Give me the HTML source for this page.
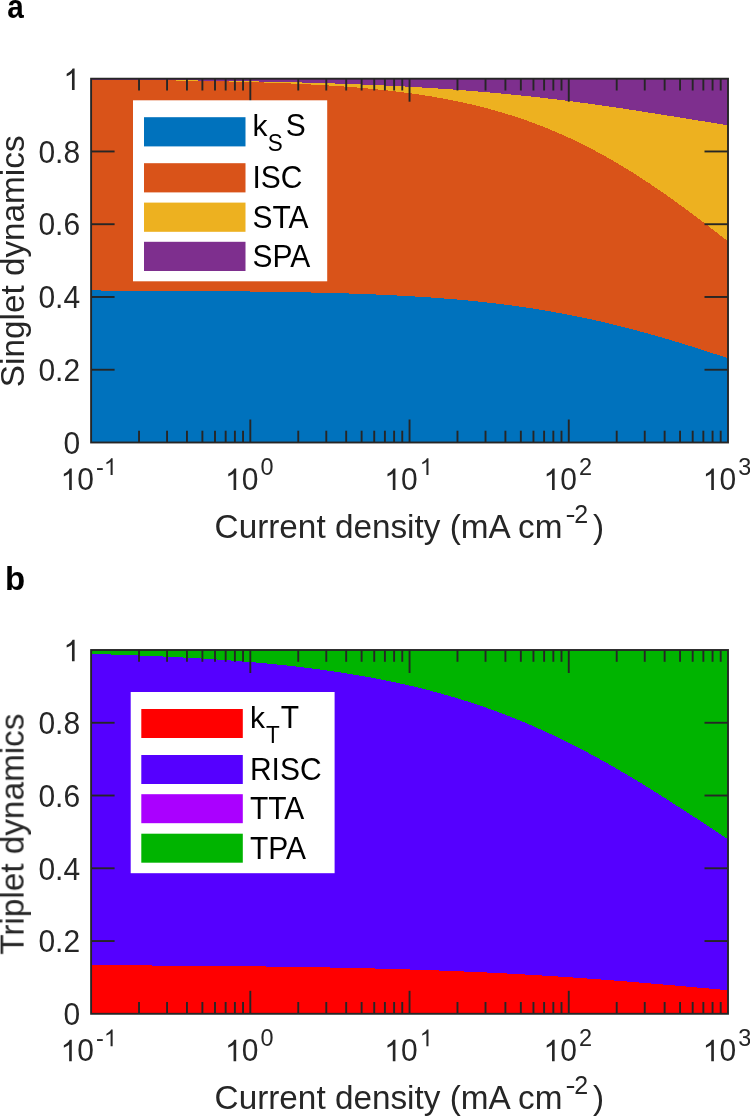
<!DOCTYPE html>
<html><head><meta charset="utf-8"><style>
html,body{margin:0;padding:0;background:#fff;}
body{width:750px;height:1116px;overflow:hidden;font-family:"Liberation Sans", sans-serif;}
svg{display:block;}
svg text{font-family:"Liberation Sans", sans-serif;}
</style></head><body>
<svg width="750" height="1116" viewBox="0 0 750 1116">
<defs><path id="one" d="M763 0L583 0L583 1147C540 1106 483 1064 412 1023C341 982 277 951 221 929L221 1103C318 1148 402 1203 474 1268C546 1333 597 1399 627 1466L763 1466Z"/></defs>
<rect width="750" height="1116" fill="#fff"/>
<path d="M91.10,78.70 L94.28,78.70 L97.47,78.70 L100.65,78.70 L103.84,78.70 L107.02,78.70 L110.21,78.70 L113.39,78.70 L116.58,78.70 L119.76,78.70 L122.94,78.70 L126.13,78.70 L129.31,78.70 L132.50,78.70 L135.68,78.70 L138.87,78.70 L142.05,78.70 L145.24,78.70 L148.42,78.70 L151.61,78.70 L154.79,78.70 L157.97,78.70 L161.16,78.70 L164.34,78.70 L167.53,78.70 L170.71,78.70 L173.90,78.70 L177.08,78.70 L180.27,78.70 L183.45,78.70 L186.63,78.70 L189.82,78.70 L193.00,78.70 L196.19,78.70 L199.37,78.70 L202.56,78.70 L205.74,78.70 L208.93,78.70 L212.11,78.70 L215.30,78.70 L218.48,78.70 L221.66,78.70 L224.85,78.70 L228.03,78.70 L231.22,78.70 L234.40,78.70 L237.59,78.70 L240.77,78.70 L243.96,78.70 L247.14,78.70 L250.32,78.70 L253.51,78.70 L256.69,78.70 L259.88,78.70 L263.06,78.70 L266.25,78.70 L269.43,78.70 L272.62,78.70 L275.80,78.70 L278.99,78.70 L282.17,78.70 L285.35,78.70 L288.54,78.70 L291.72,78.70 L294.91,78.70 L298.09,78.70 L301.28,78.70 L304.46,78.70 L307.65,78.70 L310.83,78.70 L314.01,78.70 L317.20,78.70 L320.38,78.70 L323.57,78.70 L326.75,78.70 L329.94,78.70 L333.12,78.70 L336.31,78.70 L339.49,78.70 L342.68,78.70 L345.86,78.70 L349.04,78.70 L352.23,78.70 L355.41,78.70 L358.60,78.70 L361.78,78.70 L364.97,78.70 L368.15,78.70 L371.34,78.70 L374.52,78.70 L377.71,78.70 L380.89,78.70 L384.07,78.70 L387.26,78.70 L390.44,78.70 L393.63,78.70 L396.81,78.70 L400.00,78.70 L403.18,78.70 L406.37,78.70 L409.55,78.70 L412.73,78.70 L415.92,78.70 L419.10,78.70 L422.29,78.70 L425.47,78.70 L428.66,78.70 L431.84,78.70 L435.03,78.70 L438.21,78.70 L441.39,78.70 L444.58,78.70 L447.76,78.70 L450.95,78.70 L454.13,78.70 L457.32,78.70 L460.50,78.70 L463.69,78.70 L466.87,78.70 L470.06,78.70 L473.24,78.70 L476.42,78.70 L479.61,78.70 L482.79,78.70 L485.98,78.70 L489.16,78.70 L492.35,78.70 L495.53,78.70 L498.72,78.70 L501.90,78.70 L505.09,78.70 L508.27,78.70 L511.45,78.70 L514.64,78.70 L517.82,78.70 L521.01,78.70 L524.19,78.70 L527.38,78.70 L530.56,78.70 L533.75,78.70 L536.93,78.70 L540.11,78.70 L543.30,78.70 L546.48,78.70 L549.67,78.70 L552.85,78.70 L556.04,78.70 L559.22,78.70 L562.41,78.70 L565.59,78.70 L568.77,78.70 L571.96,78.70 L575.14,78.70 L578.33,78.70 L581.51,78.70 L584.70,78.70 L587.88,78.70 L591.07,78.70 L594.25,78.70 L597.44,78.70 L600.62,78.70 L603.80,78.70 L606.99,78.70 L610.17,78.70 L613.36,78.70 L616.54,78.70 L619.73,78.70 L622.91,78.70 L626.10,78.70 L629.28,78.70 L632.47,78.70 L635.65,78.70 L638.83,78.70 L642.02,78.70 L645.20,78.70 L648.39,78.70 L651.57,78.70 L654.76,78.70 L657.94,78.70 L661.13,78.70 L664.31,78.70 L667.49,78.70 L670.68,78.70 L673.86,78.70 L677.05,78.70 L680.23,78.70 L683.42,78.70 L686.60,78.70 L689.79,78.70 L692.97,78.70 L696.15,78.70 L699.34,78.70 L702.52,78.70 L705.71,78.70 L708.89,78.70 L712.08,78.70 L715.26,78.70 L718.45,78.70 L721.63,78.70 L724.82,78.70 L728.00,78.70 L728.00,442.50 L724.82,442.50 L721.63,442.50 L718.45,442.50 L715.26,442.50 L712.08,442.50 L708.89,442.50 L705.71,442.50 L702.52,442.50 L699.34,442.50 L696.15,442.50 L692.97,442.50 L689.79,442.50 L686.60,442.50 L683.42,442.50 L680.23,442.50 L677.05,442.50 L673.86,442.50 L670.68,442.50 L667.49,442.50 L664.31,442.50 L661.13,442.50 L657.94,442.50 L654.76,442.50 L651.57,442.50 L648.39,442.50 L645.20,442.50 L642.02,442.50 L638.83,442.50 L635.65,442.50 L632.47,442.50 L629.28,442.50 L626.10,442.50 L622.91,442.50 L619.73,442.50 L616.54,442.50 L613.36,442.50 L610.17,442.50 L606.99,442.50 L603.80,442.50 L600.62,442.50 L597.44,442.50 L594.25,442.50 L591.07,442.50 L587.88,442.50 L584.70,442.50 L581.51,442.50 L578.33,442.50 L575.14,442.50 L571.96,442.50 L568.77,442.50 L565.59,442.50 L562.41,442.50 L559.22,442.50 L556.04,442.50 L552.85,442.50 L549.67,442.50 L546.48,442.50 L543.30,442.50 L540.11,442.50 L536.93,442.50 L533.75,442.50 L530.56,442.50 L527.38,442.50 L524.19,442.50 L521.01,442.50 L517.82,442.50 L514.64,442.50 L511.45,442.50 L508.27,442.50 L505.09,442.50 L501.90,442.50 L498.72,442.50 L495.53,442.50 L492.35,442.50 L489.16,442.50 L485.98,442.50 L482.79,442.50 L479.61,442.50 L476.42,442.50 L473.24,442.50 L470.06,442.50 L466.87,442.50 L463.69,442.50 L460.50,442.50 L457.32,442.50 L454.13,442.50 L450.95,442.50 L447.76,442.50 L444.58,442.50 L441.39,442.50 L438.21,442.50 L435.03,442.50 L431.84,442.50 L428.66,442.50 L425.47,442.50 L422.29,442.50 L419.10,442.50 L415.92,442.50 L412.73,442.50 L409.55,442.50 L406.37,442.50 L403.18,442.50 L400.00,442.50 L396.81,442.50 L393.63,442.50 L390.44,442.50 L387.26,442.50 L384.07,442.50 L380.89,442.50 L377.71,442.50 L374.52,442.50 L371.34,442.50 L368.15,442.50 L364.97,442.50 L361.78,442.50 L358.60,442.50 L355.41,442.50 L352.23,442.50 L349.04,442.50 L345.86,442.50 L342.68,442.50 L339.49,442.50 L336.31,442.50 L333.12,442.50 L329.94,442.50 L326.75,442.50 L323.57,442.50 L320.38,442.50 L317.20,442.50 L314.01,442.50 L310.83,442.50 L307.65,442.50 L304.46,442.50 L301.28,442.50 L298.09,442.50 L294.91,442.50 L291.72,442.50 L288.54,442.50 L285.35,442.50 L282.17,442.50 L278.99,442.50 L275.80,442.50 L272.62,442.50 L269.43,442.50 L266.25,442.50 L263.06,442.50 L259.88,442.50 L256.69,442.50 L253.51,442.50 L250.32,442.50 L247.14,442.50 L243.96,442.50 L240.77,442.50 L237.59,442.50 L234.40,442.50 L231.22,442.50 L228.03,442.50 L224.85,442.50 L221.66,442.50 L218.48,442.50 L215.30,442.50 L212.11,442.50 L208.93,442.50 L205.74,442.50 L202.56,442.50 L199.37,442.50 L196.19,442.50 L193.00,442.50 L189.82,442.50 L186.63,442.50 L183.45,442.50 L180.27,442.50 L177.08,442.50 L173.90,442.50 L170.71,442.50 L167.53,442.50 L164.34,442.50 L161.16,442.50 L157.97,442.50 L154.79,442.50 L151.61,442.50 L148.42,442.50 L145.24,442.50 L142.05,442.50 L138.87,442.50 L135.68,442.50 L132.50,442.50 L129.31,442.50 L126.13,442.50 L122.94,442.50 L119.76,442.50 L116.58,442.50 L113.39,442.50 L110.21,442.50 L107.02,442.50 L103.84,442.50 L100.65,442.50 L97.47,442.50 L94.28,442.50 L91.10,442.50 Z" fill="#7E2F8E" shape-rendering="crispEdges"/>
<path d="M91.10,79.54 L94.28,79.56 L97.47,79.58 L100.65,79.60 L103.84,79.62 L107.02,79.64 L110.21,79.66 L113.39,79.69 L116.58,79.71 L119.76,79.73 L122.94,79.76 L126.13,79.78 L129.31,79.81 L132.50,79.83 L135.68,79.86 L138.87,79.88 L142.05,79.91 L145.24,79.94 L148.42,79.97 L151.61,80.00 L154.79,80.03 L157.97,80.06 L161.16,80.09 L164.34,80.12 L167.53,80.16 L170.71,80.19 L173.90,80.22 L177.08,80.26 L180.27,80.30 L183.45,80.33 L186.63,80.37 L189.82,80.41 L193.00,80.45 L196.19,80.49 L199.37,80.53 L202.56,80.57 L205.74,80.62 L208.93,80.66 L212.11,80.71 L215.30,80.75 L218.48,80.80 L221.66,80.85 L224.85,80.90 L228.03,80.95 L231.22,81.00 L234.40,81.05 L237.59,81.11 L240.77,81.16 L243.96,81.22 L247.14,81.28 L250.32,81.34 L253.51,81.40 L256.69,81.46 L259.88,81.52 L263.06,81.59 L266.25,81.65 L269.43,81.72 L272.62,81.79 L275.80,81.86 L278.99,81.93 L282.17,82.01 L285.35,82.08 L288.54,82.16 L291.72,82.24 L294.91,82.32 L298.09,82.41 L301.28,82.49 L304.46,82.58 L307.65,82.67 L310.83,82.76 L314.01,82.85 L317.20,82.94 L320.38,83.04 L323.57,83.14 L326.75,83.24 L329.94,83.34 L333.12,83.45 L336.31,83.56 L339.49,83.67 L342.68,83.78 L345.86,83.89 L349.04,84.01 L352.23,84.13 L355.41,84.25 L358.60,84.38 L361.78,84.51 L364.97,84.64 L368.15,84.77 L371.34,84.91 L374.52,85.04 L377.71,85.19 L380.89,85.33 L384.07,85.48 L387.26,85.63 L390.44,85.79 L393.63,85.94 L396.81,86.10 L400.00,86.27 L403.18,86.43 L406.37,86.61 L409.55,86.78 L412.73,86.96 L415.92,87.14 L419.10,87.32 L422.29,87.51 L425.47,87.70 L428.66,87.90 L431.84,88.10 L435.03,88.31 L438.21,88.51 L441.39,88.73 L444.58,88.94 L447.76,89.16 L450.95,89.39 L454.13,89.61 L457.32,89.85 L460.50,90.08 L463.69,90.33 L466.87,90.57 L470.06,90.82 L473.24,91.08 L476.42,91.34 L479.61,91.60 L482.79,91.87 L485.98,92.14 L489.16,92.42 L492.35,92.70 L495.53,92.99 L498.72,93.29 L501.90,93.58 L505.09,93.89 L508.27,94.19 L511.45,94.51 L514.64,94.82 L517.82,95.15 L521.01,95.47 L524.19,95.81 L527.38,96.14 L530.56,96.49 L533.75,96.83 L536.93,97.19 L540.11,97.55 L543.30,97.91 L546.48,98.28 L549.67,98.65 L552.85,99.03 L556.04,99.41 L559.22,99.80 L562.41,100.19 L565.59,100.59 L568.77,101.00 L571.96,101.40 L575.14,101.82 L578.33,102.24 L581.51,102.66 L584.70,103.09 L587.88,103.52 L591.07,103.95 L594.25,104.40 L597.44,104.84 L600.62,105.29 L603.80,105.75 L606.99,106.20 L610.17,106.67 L613.36,107.13 L616.54,107.60 L619.73,108.08 L622.91,108.55 L626.10,109.03 L629.28,109.52 L632.47,110.01 L635.65,110.50 L638.83,110.99 L642.02,111.49 L645.20,111.98 L648.39,112.49 L651.57,112.99 L654.76,113.49 L657.94,114.00 L661.13,114.51 L664.31,115.02 L667.49,115.53 L670.68,116.04 L673.86,116.56 L677.05,117.07 L680.23,117.59 L683.42,118.10 L686.60,118.62 L689.79,119.13 L692.97,119.65 L696.15,120.16 L699.34,120.67 L702.52,121.19 L705.71,121.70 L708.89,122.20 L712.08,122.71 L715.26,123.22 L718.45,123.72 L721.63,124.22 L724.82,124.72 L728.00,125.21 L728.00,442.50 L724.82,442.50 L721.63,442.50 L718.45,442.50 L715.26,442.50 L712.08,442.50 L708.89,442.50 L705.71,442.50 L702.52,442.50 L699.34,442.50 L696.15,442.50 L692.97,442.50 L689.79,442.50 L686.60,442.50 L683.42,442.50 L680.23,442.50 L677.05,442.50 L673.86,442.50 L670.68,442.50 L667.49,442.50 L664.31,442.50 L661.13,442.50 L657.94,442.50 L654.76,442.50 L651.57,442.50 L648.39,442.50 L645.20,442.50 L642.02,442.50 L638.83,442.50 L635.65,442.50 L632.47,442.50 L629.28,442.50 L626.10,442.50 L622.91,442.50 L619.73,442.50 L616.54,442.50 L613.36,442.50 L610.17,442.50 L606.99,442.50 L603.80,442.50 L600.62,442.50 L597.44,442.50 L594.25,442.50 L591.07,442.50 L587.88,442.50 L584.70,442.50 L581.51,442.50 L578.33,442.50 L575.14,442.50 L571.96,442.50 L568.77,442.50 L565.59,442.50 L562.41,442.50 L559.22,442.50 L556.04,442.50 L552.85,442.50 L549.67,442.50 L546.48,442.50 L543.30,442.50 L540.11,442.50 L536.93,442.50 L533.75,442.50 L530.56,442.50 L527.38,442.50 L524.19,442.50 L521.01,442.50 L517.82,442.50 L514.64,442.50 L511.45,442.50 L508.27,442.50 L505.09,442.50 L501.90,442.50 L498.72,442.50 L495.53,442.50 L492.35,442.50 L489.16,442.50 L485.98,442.50 L482.79,442.50 L479.61,442.50 L476.42,442.50 L473.24,442.50 L470.06,442.50 L466.87,442.50 L463.69,442.50 L460.50,442.50 L457.32,442.50 L454.13,442.50 L450.95,442.50 L447.76,442.50 L444.58,442.50 L441.39,442.50 L438.21,442.50 L435.03,442.50 L431.84,442.50 L428.66,442.50 L425.47,442.50 L422.29,442.50 L419.10,442.50 L415.92,442.50 L412.73,442.50 L409.55,442.50 L406.37,442.50 L403.18,442.50 L400.00,442.50 L396.81,442.50 L393.63,442.50 L390.44,442.50 L387.26,442.50 L384.07,442.50 L380.89,442.50 L377.71,442.50 L374.52,442.50 L371.34,442.50 L368.15,442.50 L364.97,442.50 L361.78,442.50 L358.60,442.50 L355.41,442.50 L352.23,442.50 L349.04,442.50 L345.86,442.50 L342.68,442.50 L339.49,442.50 L336.31,442.50 L333.12,442.50 L329.94,442.50 L326.75,442.50 L323.57,442.50 L320.38,442.50 L317.20,442.50 L314.01,442.50 L310.83,442.50 L307.65,442.50 L304.46,442.50 L301.28,442.50 L298.09,442.50 L294.91,442.50 L291.72,442.50 L288.54,442.50 L285.35,442.50 L282.17,442.50 L278.99,442.50 L275.80,442.50 L272.62,442.50 L269.43,442.50 L266.25,442.50 L263.06,442.50 L259.88,442.50 L256.69,442.50 L253.51,442.50 L250.32,442.50 L247.14,442.50 L243.96,442.50 L240.77,442.50 L237.59,442.50 L234.40,442.50 L231.22,442.50 L228.03,442.50 L224.85,442.50 L221.66,442.50 L218.48,442.50 L215.30,442.50 L212.11,442.50 L208.93,442.50 L205.74,442.50 L202.56,442.50 L199.37,442.50 L196.19,442.50 L193.00,442.50 L189.82,442.50 L186.63,442.50 L183.45,442.50 L180.27,442.50 L177.08,442.50 L173.90,442.50 L170.71,442.50 L167.53,442.50 L164.34,442.50 L161.16,442.50 L157.97,442.50 L154.79,442.50 L151.61,442.50 L148.42,442.50 L145.24,442.50 L142.05,442.50 L138.87,442.50 L135.68,442.50 L132.50,442.50 L129.31,442.50 L126.13,442.50 L122.94,442.50 L119.76,442.50 L116.58,442.50 L113.39,442.50 L110.21,442.50 L107.02,442.50 L103.84,442.50 L100.65,442.50 L97.47,442.50 L94.28,442.50 L91.10,442.50 Z" fill="#EDB120" shape-rendering="crispEdges"/>
<path d="M91.10,79.61 L94.28,79.64 L97.47,79.66 L100.65,79.69 L103.84,79.71 L107.02,79.74 L110.21,79.76 L113.39,79.79 L116.58,79.82 L119.76,79.85 L122.94,79.87 L126.13,79.90 L129.31,79.94 L132.50,79.97 L135.68,80.00 L138.87,80.03 L142.05,80.07 L145.24,80.10 L148.42,80.14 L151.61,80.18 L154.79,80.22 L157.97,80.26 L161.16,80.30 L164.34,80.34 L167.53,80.38 L170.71,80.43 L173.90,80.47 L177.08,80.52 L180.27,80.57 L183.45,80.62 L186.63,80.67 L189.82,80.72 L193.00,80.77 L196.19,80.83 L199.37,80.89 L202.56,80.94 L205.74,81.01 L208.93,81.07 L212.11,81.13 L215.30,81.20 L218.48,81.27 L221.66,81.34 L224.85,81.41 L228.03,81.48 L231.22,81.56 L234.40,81.64 L237.59,81.72 L240.77,81.80 L243.96,81.89 L247.14,81.98 L250.32,82.07 L253.51,82.17 L256.69,82.26 L259.88,82.36 L263.06,82.47 L266.25,82.58 L269.43,82.69 L272.62,82.80 L275.80,82.92 L278.99,83.04 L282.17,83.16 L285.35,83.29 L288.54,83.42 L291.72,83.56 L294.91,83.70 L298.09,83.85 L301.28,84.00 L304.46,84.15 L307.65,84.31 L310.83,84.48 L314.01,84.65 L317.20,84.82 L320.38,85.00 L323.57,85.19 L326.75,85.38 L329.94,85.58 L333.12,85.78 L336.31,86.00 L339.49,86.21 L342.68,86.44 L345.86,86.67 L349.04,86.91 L352.23,87.16 L355.41,87.41 L358.60,87.68 L361.78,87.95 L364.97,88.23 L368.15,88.52 L371.34,88.81 L374.52,89.12 L377.71,89.44 L380.89,89.77 L384.07,90.10 L387.26,90.45 L390.44,90.81 L393.63,91.17 L396.81,91.55 L400.00,91.95 L403.18,92.35 L406.37,92.76 L409.55,93.19 L412.73,93.63 L415.92,94.09 L419.10,94.55 L422.29,95.04 L425.47,95.53 L428.66,96.04 L431.84,96.56 L435.03,97.10 L438.21,97.66 L441.39,98.23 L444.58,98.81 L447.76,99.42 L450.95,100.04 L454.13,100.67 L457.32,101.33 L460.50,102.00 L463.69,102.69 L466.87,103.40 L470.06,104.13 L473.24,104.87 L476.42,105.64 L479.61,106.42 L482.79,107.23 L485.98,108.06 L489.16,108.90 L492.35,109.77 L495.53,110.66 L498.72,111.57 L501.90,112.51 L505.09,113.46 L508.27,114.44 L511.45,115.44 L514.64,116.47 L517.82,117.51 L521.01,118.59 L524.19,119.68 L527.38,120.80 L530.56,121.95 L533.75,123.12 L536.93,124.31 L540.11,125.53 L543.30,126.78 L546.48,128.05 L549.67,129.35 L552.85,130.67 L556.04,132.02 L559.22,133.39 L562.41,134.80 L565.59,136.23 L568.77,137.68 L571.96,139.17 L575.14,140.68 L578.33,142.21 L581.51,143.78 L584.70,145.37 L587.88,146.99 L591.07,148.63 L594.25,150.30 L597.44,152.00 L600.62,153.73 L603.80,155.48 L606.99,157.26 L610.17,159.07 L613.36,160.90 L616.54,162.76 L619.73,164.65 L622.91,166.56 L626.10,168.50 L629.28,170.46 L632.47,172.45 L635.65,174.47 L638.83,176.50 L642.02,178.57 L645.20,180.65 L648.39,182.76 L651.57,184.89 L654.76,187.05 L657.94,189.22 L661.13,191.42 L664.31,193.64 L667.49,195.88 L670.68,198.14 L673.86,200.42 L677.05,202.71 L680.23,205.03 L683.42,207.36 L686.60,209.71 L689.79,212.07 L692.97,214.45 L696.15,216.85 L699.34,219.26 L702.52,221.68 L705.71,224.11 L708.89,226.55 L712.08,229.01 L715.26,231.47 L718.45,233.94 L721.63,236.43 L724.82,238.91 L728.00,241.41 L728.00,442.50 L724.82,442.50 L721.63,442.50 L718.45,442.50 L715.26,442.50 L712.08,442.50 L708.89,442.50 L705.71,442.50 L702.52,442.50 L699.34,442.50 L696.15,442.50 L692.97,442.50 L689.79,442.50 L686.60,442.50 L683.42,442.50 L680.23,442.50 L677.05,442.50 L673.86,442.50 L670.68,442.50 L667.49,442.50 L664.31,442.50 L661.13,442.50 L657.94,442.50 L654.76,442.50 L651.57,442.50 L648.39,442.50 L645.20,442.50 L642.02,442.50 L638.83,442.50 L635.65,442.50 L632.47,442.50 L629.28,442.50 L626.10,442.50 L622.91,442.50 L619.73,442.50 L616.54,442.50 L613.36,442.50 L610.17,442.50 L606.99,442.50 L603.80,442.50 L600.62,442.50 L597.44,442.50 L594.25,442.50 L591.07,442.50 L587.88,442.50 L584.70,442.50 L581.51,442.50 L578.33,442.50 L575.14,442.50 L571.96,442.50 L568.77,442.50 L565.59,442.50 L562.41,442.50 L559.22,442.50 L556.04,442.50 L552.85,442.50 L549.67,442.50 L546.48,442.50 L543.30,442.50 L540.11,442.50 L536.93,442.50 L533.75,442.50 L530.56,442.50 L527.38,442.50 L524.19,442.50 L521.01,442.50 L517.82,442.50 L514.64,442.50 L511.45,442.50 L508.27,442.50 L505.09,442.50 L501.90,442.50 L498.72,442.50 L495.53,442.50 L492.35,442.50 L489.16,442.50 L485.98,442.50 L482.79,442.50 L479.61,442.50 L476.42,442.50 L473.24,442.50 L470.06,442.50 L466.87,442.50 L463.69,442.50 L460.50,442.50 L457.32,442.50 L454.13,442.50 L450.95,442.50 L447.76,442.50 L444.58,442.50 L441.39,442.50 L438.21,442.50 L435.03,442.50 L431.84,442.50 L428.66,442.50 L425.47,442.50 L422.29,442.50 L419.10,442.50 L415.92,442.50 L412.73,442.50 L409.55,442.50 L406.37,442.50 L403.18,442.50 L400.00,442.50 L396.81,442.50 L393.63,442.50 L390.44,442.50 L387.26,442.50 L384.07,442.50 L380.89,442.50 L377.71,442.50 L374.52,442.50 L371.34,442.50 L368.15,442.50 L364.97,442.50 L361.78,442.50 L358.60,442.50 L355.41,442.50 L352.23,442.50 L349.04,442.50 L345.86,442.50 L342.68,442.50 L339.49,442.50 L336.31,442.50 L333.12,442.50 L329.94,442.50 L326.75,442.50 L323.57,442.50 L320.38,442.50 L317.20,442.50 L314.01,442.50 L310.83,442.50 L307.65,442.50 L304.46,442.50 L301.28,442.50 L298.09,442.50 L294.91,442.50 L291.72,442.50 L288.54,442.50 L285.35,442.50 L282.17,442.50 L278.99,442.50 L275.80,442.50 L272.62,442.50 L269.43,442.50 L266.25,442.50 L263.06,442.50 L259.88,442.50 L256.69,442.50 L253.51,442.50 L250.32,442.50 L247.14,442.50 L243.96,442.50 L240.77,442.50 L237.59,442.50 L234.40,442.50 L231.22,442.50 L228.03,442.50 L224.85,442.50 L221.66,442.50 L218.48,442.50 L215.30,442.50 L212.11,442.50 L208.93,442.50 L205.74,442.50 L202.56,442.50 L199.37,442.50 L196.19,442.50 L193.00,442.50 L189.82,442.50 L186.63,442.50 L183.45,442.50 L180.27,442.50 L177.08,442.50 L173.90,442.50 L170.71,442.50 L167.53,442.50 L164.34,442.50 L161.16,442.50 L157.97,442.50 L154.79,442.50 L151.61,442.50 L148.42,442.50 L145.24,442.50 L142.05,442.50 L138.87,442.50 L135.68,442.50 L132.50,442.50 L129.31,442.50 L126.13,442.50 L122.94,442.50 L119.76,442.50 L116.58,442.50 L113.39,442.50 L110.21,442.50 L107.02,442.50 L103.84,442.50 L100.65,442.50 L97.47,442.50 L94.28,442.50 L91.10,442.50 Z" fill="#D95319" shape-rendering="crispEdges"/>
<path d="M91.10,290.47 L94.28,290.48 L97.47,290.49 L100.65,290.50 L103.84,290.51 L107.02,290.53 L110.21,290.54 L113.39,290.55 L116.58,290.56 L119.76,290.57 L122.94,290.58 L126.13,290.60 L129.31,290.61 L132.50,290.62 L135.68,290.64 L138.87,290.65 L142.05,290.66 L145.24,290.68 L148.42,290.69 L151.61,290.71 L154.79,290.73 L157.97,290.74 L161.16,290.76 L164.34,290.78 L167.53,290.80 L170.71,290.81 L173.90,290.83 L177.08,290.85 L180.27,290.87 L183.45,290.89 L186.63,290.91 L189.82,290.94 L193.00,290.96 L196.19,290.98 L199.37,291.01 L202.56,291.03 L205.74,291.06 L208.93,291.08 L212.11,291.11 L215.30,291.14 L218.48,291.17 L221.66,291.20 L224.85,291.23 L228.03,291.26 L231.22,291.29 L234.40,291.32 L237.59,291.36 L240.77,291.39 L243.96,291.43 L247.14,291.47 L250.32,291.50 L253.51,291.54 L256.69,291.58 L259.88,291.63 L263.06,291.67 L266.25,291.71 L269.43,291.76 L272.62,291.81 L275.80,291.86 L278.99,291.91 L282.17,291.96 L285.35,292.01 L288.54,292.07 L291.72,292.13 L294.91,292.19 L298.09,292.25 L301.28,292.31 L304.46,292.37 L307.65,292.44 L310.83,292.51 L314.01,292.58 L317.20,292.66 L320.38,292.73 L323.57,292.81 L326.75,292.89 L329.94,292.97 L333.12,293.06 L336.31,293.15 L339.49,293.24 L342.68,293.33 L345.86,293.43 L349.04,293.53 L352.23,293.63 L355.41,293.74 L358.60,293.85 L361.78,293.97 L364.97,294.08 L368.15,294.20 L371.34,294.33 L374.52,294.46 L377.71,294.59 L380.89,294.73 L384.07,294.87 L387.26,295.01 L390.44,295.16 L393.63,295.32 L396.81,295.48 L400.00,295.64 L403.18,295.81 L406.37,295.98 L409.55,296.16 L412.73,296.35 L415.92,296.54 L419.10,296.73 L422.29,296.93 L425.47,297.14 L428.66,297.36 L431.84,297.57 L435.03,297.80 L438.21,298.03 L441.39,298.27 L444.58,298.52 L447.76,298.77 L450.95,299.03 L454.13,299.30 L457.32,299.57 L460.50,299.85 L463.69,300.14 L466.87,300.44 L470.06,300.74 L473.24,301.06 L476.42,301.38 L479.61,301.71 L482.79,302.04 L485.98,302.39 L489.16,302.74 L492.35,303.11 L495.53,303.48 L498.72,303.86 L501.90,304.25 L505.09,304.65 L508.27,305.06 L511.45,305.48 L514.64,305.91 L517.82,306.35 L521.01,306.80 L524.19,307.26 L527.38,307.73 L530.56,308.21 L533.75,308.70 L536.93,309.20 L540.11,309.71 L543.30,310.23 L546.48,310.76 L549.67,311.31 L552.85,311.86 L556.04,312.43 L559.22,313.00 L562.41,313.59 L565.59,314.19 L568.77,314.80 L571.96,315.42 L575.14,316.05 L578.33,316.70 L581.51,317.35 L584.70,318.02 L587.88,318.70 L591.07,319.39 L594.25,320.09 L597.44,320.80 L600.62,321.52 L603.80,322.26 L606.99,323.00 L610.17,323.76 L613.36,324.53 L616.54,325.31 L619.73,326.10 L622.91,326.90 L626.10,327.71 L629.28,328.53 L632.47,329.37 L635.65,330.21 L638.83,331.06 L642.02,331.93 L645.20,332.80 L648.39,333.69 L651.57,334.58 L654.76,335.48 L657.94,336.39 L661.13,337.31 L664.31,338.24 L667.49,339.18 L670.68,340.13 L673.86,341.08 L677.05,342.04 L680.23,343.01 L683.42,343.99 L686.60,344.98 L689.79,345.97 L692.97,346.96 L696.15,347.97 L699.34,348.98 L702.52,349.99 L705.71,351.01 L708.89,352.03 L712.08,353.06 L715.26,354.09 L718.45,355.13 L721.63,356.17 L724.82,357.21 L728.00,358.25 L728.00,442.50 L724.82,442.50 L721.63,442.50 L718.45,442.50 L715.26,442.50 L712.08,442.50 L708.89,442.50 L705.71,442.50 L702.52,442.50 L699.34,442.50 L696.15,442.50 L692.97,442.50 L689.79,442.50 L686.60,442.50 L683.42,442.50 L680.23,442.50 L677.05,442.50 L673.86,442.50 L670.68,442.50 L667.49,442.50 L664.31,442.50 L661.13,442.50 L657.94,442.50 L654.76,442.50 L651.57,442.50 L648.39,442.50 L645.20,442.50 L642.02,442.50 L638.83,442.50 L635.65,442.50 L632.47,442.50 L629.28,442.50 L626.10,442.50 L622.91,442.50 L619.73,442.50 L616.54,442.50 L613.36,442.50 L610.17,442.50 L606.99,442.50 L603.80,442.50 L600.62,442.50 L597.44,442.50 L594.25,442.50 L591.07,442.50 L587.88,442.50 L584.70,442.50 L581.51,442.50 L578.33,442.50 L575.14,442.50 L571.96,442.50 L568.77,442.50 L565.59,442.50 L562.41,442.50 L559.22,442.50 L556.04,442.50 L552.85,442.50 L549.67,442.50 L546.48,442.50 L543.30,442.50 L540.11,442.50 L536.93,442.50 L533.75,442.50 L530.56,442.50 L527.38,442.50 L524.19,442.50 L521.01,442.50 L517.82,442.50 L514.64,442.50 L511.45,442.50 L508.27,442.50 L505.09,442.50 L501.90,442.50 L498.72,442.50 L495.53,442.50 L492.35,442.50 L489.16,442.50 L485.98,442.50 L482.79,442.50 L479.61,442.50 L476.42,442.50 L473.24,442.50 L470.06,442.50 L466.87,442.50 L463.69,442.50 L460.50,442.50 L457.32,442.50 L454.13,442.50 L450.95,442.50 L447.76,442.50 L444.58,442.50 L441.39,442.50 L438.21,442.50 L435.03,442.50 L431.84,442.50 L428.66,442.50 L425.47,442.50 L422.29,442.50 L419.10,442.50 L415.92,442.50 L412.73,442.50 L409.55,442.50 L406.37,442.50 L403.18,442.50 L400.00,442.50 L396.81,442.50 L393.63,442.50 L390.44,442.50 L387.26,442.50 L384.07,442.50 L380.89,442.50 L377.71,442.50 L374.52,442.50 L371.34,442.50 L368.15,442.50 L364.97,442.50 L361.78,442.50 L358.60,442.50 L355.41,442.50 L352.23,442.50 L349.04,442.50 L345.86,442.50 L342.68,442.50 L339.49,442.50 L336.31,442.50 L333.12,442.50 L329.94,442.50 L326.75,442.50 L323.57,442.50 L320.38,442.50 L317.20,442.50 L314.01,442.50 L310.83,442.50 L307.65,442.50 L304.46,442.50 L301.28,442.50 L298.09,442.50 L294.91,442.50 L291.72,442.50 L288.54,442.50 L285.35,442.50 L282.17,442.50 L278.99,442.50 L275.80,442.50 L272.62,442.50 L269.43,442.50 L266.25,442.50 L263.06,442.50 L259.88,442.50 L256.69,442.50 L253.51,442.50 L250.32,442.50 L247.14,442.50 L243.96,442.50 L240.77,442.50 L237.59,442.50 L234.40,442.50 L231.22,442.50 L228.03,442.50 L224.85,442.50 L221.66,442.50 L218.48,442.50 L215.30,442.50 L212.11,442.50 L208.93,442.50 L205.74,442.50 L202.56,442.50 L199.37,442.50 L196.19,442.50 L193.00,442.50 L189.82,442.50 L186.63,442.50 L183.45,442.50 L180.27,442.50 L177.08,442.50 L173.90,442.50 L170.71,442.50 L167.53,442.50 L164.34,442.50 L161.16,442.50 L157.97,442.50 L154.79,442.50 L151.61,442.50 L148.42,442.50 L145.24,442.50 L142.05,442.50 L138.87,442.50 L135.68,442.50 L132.50,442.50 L129.31,442.50 L126.13,442.50 L122.94,442.50 L119.76,442.50 L116.58,442.50 L113.39,442.50 L110.21,442.50 L107.02,442.50 L103.84,442.50 L100.65,442.50 L97.47,442.50 L94.28,442.50 L91.10,442.50 Z" fill="#0072BD" shape-rendering="crispEdges"/>
<g stroke="#262626" stroke-width="1.90" fill="none" stroke-linecap="butt"><line x1="139.03" y1="442.50" x2="139.03" y2="430.70"/>
<line x1="139.03" y1="78.70" x2="139.03" y2="90.50"/>
<line x1="167.07" y1="442.50" x2="167.07" y2="430.70"/>
<line x1="167.07" y1="78.70" x2="167.07" y2="90.50"/>
<line x1="186.96" y1="442.50" x2="186.96" y2="430.70"/>
<line x1="186.96" y1="78.70" x2="186.96" y2="90.50"/>
<line x1="202.39" y1="442.50" x2="202.39" y2="430.70"/>
<line x1="202.39" y1="78.70" x2="202.39" y2="90.50"/>
<line x1="215.00" y1="442.50" x2="215.00" y2="430.70"/>
<line x1="215.00" y1="78.70" x2="215.00" y2="90.50"/>
<line x1="225.66" y1="442.50" x2="225.66" y2="430.70"/>
<line x1="225.66" y1="78.70" x2="225.66" y2="90.50"/>
<line x1="234.89" y1="442.50" x2="234.89" y2="430.70"/>
<line x1="234.89" y1="78.70" x2="234.89" y2="90.50"/>
<line x1="243.04" y1="442.50" x2="243.04" y2="430.70"/>
<line x1="243.04" y1="78.70" x2="243.04" y2="90.50"/>
<line x1="250.32" y1="442.50" x2="250.32" y2="419.50"/>
<line x1="250.32" y1="78.70" x2="250.32" y2="101.70"/>
<line x1="298.26" y1="442.50" x2="298.26" y2="430.70"/>
<line x1="298.26" y1="78.70" x2="298.26" y2="90.50"/>
<line x1="326.29" y1="442.50" x2="326.29" y2="430.70"/>
<line x1="326.29" y1="78.70" x2="326.29" y2="90.50"/>
<line x1="346.19" y1="442.50" x2="346.19" y2="430.70"/>
<line x1="346.19" y1="78.70" x2="346.19" y2="90.50"/>
<line x1="361.62" y1="442.50" x2="361.62" y2="430.70"/>
<line x1="361.62" y1="78.70" x2="361.62" y2="90.50"/>
<line x1="374.23" y1="442.50" x2="374.23" y2="430.70"/>
<line x1="374.23" y1="78.70" x2="374.23" y2="90.50"/>
<line x1="384.89" y1="442.50" x2="384.89" y2="430.70"/>
<line x1="384.89" y1="78.70" x2="384.89" y2="90.50"/>
<line x1="394.12" y1="442.50" x2="394.12" y2="430.70"/>
<line x1="394.12" y1="78.70" x2="394.12" y2="90.50"/>
<line x1="402.26" y1="442.50" x2="402.26" y2="430.70"/>
<line x1="402.26" y1="78.70" x2="402.26" y2="90.50"/>
<line x1="409.55" y1="442.50" x2="409.55" y2="419.50"/>
<line x1="409.55" y1="78.70" x2="409.55" y2="101.70"/>
<line x1="457.48" y1="442.50" x2="457.48" y2="430.70"/>
<line x1="457.48" y1="78.70" x2="457.48" y2="90.50"/>
<line x1="485.52" y1="442.50" x2="485.52" y2="430.70"/>
<line x1="485.52" y1="78.70" x2="485.52" y2="90.50"/>
<line x1="505.41" y1="442.50" x2="505.41" y2="430.70"/>
<line x1="505.41" y1="78.70" x2="505.41" y2="90.50"/>
<line x1="520.84" y1="442.50" x2="520.84" y2="430.70"/>
<line x1="520.84" y1="78.70" x2="520.84" y2="90.50"/>
<line x1="533.45" y1="442.50" x2="533.45" y2="430.70"/>
<line x1="533.45" y1="78.70" x2="533.45" y2="90.50"/>
<line x1="544.11" y1="442.50" x2="544.11" y2="430.70"/>
<line x1="544.11" y1="78.70" x2="544.11" y2="90.50"/>
<line x1="553.34" y1="442.50" x2="553.34" y2="430.70"/>
<line x1="553.34" y1="78.70" x2="553.34" y2="90.50"/>
<line x1="561.49" y1="442.50" x2="561.49" y2="430.70"/>
<line x1="561.49" y1="78.70" x2="561.49" y2="90.50"/>
<line x1="568.77" y1="442.50" x2="568.77" y2="419.50"/>
<line x1="568.77" y1="78.70" x2="568.77" y2="101.70"/>
<line x1="616.71" y1="442.50" x2="616.71" y2="430.70"/>
<line x1="616.71" y1="78.70" x2="616.71" y2="90.50"/>
<line x1="644.74" y1="442.50" x2="644.74" y2="430.70"/>
<line x1="644.74" y1="78.70" x2="644.74" y2="90.50"/>
<line x1="664.64" y1="442.50" x2="664.64" y2="430.70"/>
<line x1="664.64" y1="78.70" x2="664.64" y2="90.50"/>
<line x1="680.07" y1="442.50" x2="680.07" y2="430.70"/>
<line x1="680.07" y1="78.70" x2="680.07" y2="90.50"/>
<line x1="692.68" y1="442.50" x2="692.68" y2="430.70"/>
<line x1="692.68" y1="78.70" x2="692.68" y2="90.50"/>
<line x1="703.34" y1="442.50" x2="703.34" y2="430.70"/>
<line x1="703.34" y1="78.70" x2="703.34" y2="90.50"/>
<line x1="712.57" y1="442.50" x2="712.57" y2="430.70"/>
<line x1="712.57" y1="78.70" x2="712.57" y2="90.50"/>
<line x1="720.71" y1="442.50" x2="720.71" y2="430.70"/>
<line x1="720.71" y1="78.70" x2="720.71" y2="90.50"/>
<line x1="91.10" y1="369.74" x2="114.60" y2="369.74"/>
<line x1="728.00" y1="369.74" x2="704.50" y2="369.74"/>
<line x1="91.10" y1="296.98" x2="114.60" y2="296.98"/>
<line x1="728.00" y1="296.98" x2="704.50" y2="296.98"/>
<line x1="91.10" y1="224.22" x2="114.60" y2="224.22"/>
<line x1="728.00" y1="224.22" x2="704.50" y2="224.22"/>
<line x1="91.10" y1="151.46" x2="114.60" y2="151.46"/>
<line x1="728.00" y1="151.46" x2="704.50" y2="151.46"/>
<rect x="91.10" y="78.70" width="636.90" height="363.80" fill="none"/></g>
<rect x="133.00" y="100.30" width="194.20" height="181.00" fill="#fff"/>
<rect x="144.00" y="117.20" width="101.50" height="29.20" fill="#0072BD"/>
<rect x="144.00" y="163.20" width="101.50" height="29.20" fill="#D95319"/>
<rect x="144.00" y="202.60" width="101.50" height="29.20" fill="#EDB120"/>
<rect x="144.00" y="241.80" width="101.50" height="29.20" fill="#7E2F8E"/>
<g fill="#000" style="will-change:transform">
<text transform="translate(252.40,136.00) scale(1,0.990)" font-size="30">k</text>
<text transform="translate(267.70,150.90) scale(1,1.035)" font-size="22.5">S</text>
<text transform="translate(285.81,136.00) scale(1,1.035)" font-size="30">S</text>
<text transform="translate(252.40,188.42) scale(1,1.035)" font-size="30">ISC</text>
<text transform="translate(252.40,227.82) scale(1,1.035)" font-size="30">STA</text>
<text transform="translate(252.40,267.02) scale(1,1.035)" font-size="30">SPA</text>
</g>
<path d="M91.10,650.00 L94.28,650.00 L97.47,650.00 L100.65,650.00 L103.84,650.00 L107.02,650.00 L110.21,650.00 L113.39,650.00 L116.58,650.00 L119.76,650.00 L122.94,650.00 L126.13,650.00 L129.31,650.00 L132.50,650.00 L135.68,650.00 L138.87,650.00 L142.05,650.00 L145.24,650.00 L148.42,650.00 L151.61,650.00 L154.79,650.00 L157.97,650.00 L161.16,650.00 L164.34,650.00 L167.53,650.00 L170.71,650.00 L173.90,650.00 L177.08,650.00 L180.27,650.00 L183.45,650.00 L186.63,650.00 L189.82,650.00 L193.00,650.00 L196.19,650.00 L199.37,650.00 L202.56,650.00 L205.74,650.00 L208.93,650.00 L212.11,650.00 L215.30,650.00 L218.48,650.00 L221.66,650.00 L224.85,650.00 L228.03,650.00 L231.22,650.00 L234.40,650.00 L237.59,650.00 L240.77,650.00 L243.96,650.00 L247.14,650.00 L250.32,650.00 L253.51,650.00 L256.69,650.00 L259.88,650.00 L263.06,650.00 L266.25,650.00 L269.43,650.00 L272.62,650.00 L275.80,650.00 L278.99,650.00 L282.17,650.00 L285.35,650.00 L288.54,650.00 L291.72,650.00 L294.91,650.00 L298.09,650.00 L301.28,650.00 L304.46,650.00 L307.65,650.00 L310.83,650.00 L314.01,650.00 L317.20,650.00 L320.38,650.00 L323.57,650.00 L326.75,650.00 L329.94,650.00 L333.12,650.00 L336.31,650.00 L339.49,650.00 L342.68,650.00 L345.86,650.00 L349.04,650.00 L352.23,650.00 L355.41,650.00 L358.60,650.00 L361.78,650.00 L364.97,650.00 L368.15,650.00 L371.34,650.00 L374.52,650.00 L377.71,650.00 L380.89,650.00 L384.07,650.00 L387.26,650.00 L390.44,650.00 L393.63,650.00 L396.81,650.00 L400.00,650.00 L403.18,650.00 L406.37,650.00 L409.55,650.00 L412.73,650.00 L415.92,650.00 L419.10,650.00 L422.29,650.00 L425.47,650.00 L428.66,650.00 L431.84,650.00 L435.03,650.00 L438.21,650.00 L441.39,650.00 L444.58,650.00 L447.76,650.00 L450.95,650.00 L454.13,650.00 L457.32,650.00 L460.50,650.00 L463.69,650.00 L466.87,650.00 L470.06,650.00 L473.24,650.00 L476.42,650.00 L479.61,650.00 L482.79,650.00 L485.98,650.00 L489.16,650.00 L492.35,650.00 L495.53,650.00 L498.72,650.00 L501.90,650.00 L505.09,650.00 L508.27,650.00 L511.45,650.00 L514.64,650.00 L517.82,650.00 L521.01,650.00 L524.19,650.00 L527.38,650.00 L530.56,650.00 L533.75,650.00 L536.93,650.00 L540.11,650.00 L543.30,650.00 L546.48,650.00 L549.67,650.00 L552.85,650.00 L556.04,650.00 L559.22,650.00 L562.41,650.00 L565.59,650.00 L568.77,650.00 L571.96,650.00 L575.14,650.00 L578.33,650.00 L581.51,650.00 L584.70,650.00 L587.88,650.00 L591.07,650.00 L594.25,650.00 L597.44,650.00 L600.62,650.00 L603.80,650.00 L606.99,650.00 L610.17,650.00 L613.36,650.00 L616.54,650.00 L619.73,650.00 L622.91,650.00 L626.10,650.00 L629.28,650.00 L632.47,650.00 L635.65,650.00 L638.83,650.00 L642.02,650.00 L645.20,650.00 L648.39,650.00 L651.57,650.00 L654.76,650.00 L657.94,650.00 L661.13,650.00 L664.31,650.00 L667.49,650.00 L670.68,650.00 L673.86,650.00 L677.05,650.00 L680.23,650.00 L683.42,650.00 L686.60,650.00 L689.79,650.00 L692.97,650.00 L696.15,650.00 L699.34,650.00 L702.52,650.00 L705.71,650.00 L708.89,650.00 L712.08,650.00 L715.26,650.00 L718.45,650.00 L721.63,650.00 L724.82,650.00 L728.00,650.00 L728.00,1013.80 L724.82,1013.80 L721.63,1013.80 L718.45,1013.80 L715.26,1013.80 L712.08,1013.80 L708.89,1013.80 L705.71,1013.80 L702.52,1013.80 L699.34,1013.80 L696.15,1013.80 L692.97,1013.80 L689.79,1013.80 L686.60,1013.80 L683.42,1013.80 L680.23,1013.80 L677.05,1013.80 L673.86,1013.80 L670.68,1013.80 L667.49,1013.80 L664.31,1013.80 L661.13,1013.80 L657.94,1013.80 L654.76,1013.80 L651.57,1013.80 L648.39,1013.80 L645.20,1013.80 L642.02,1013.80 L638.83,1013.80 L635.65,1013.80 L632.47,1013.80 L629.28,1013.80 L626.10,1013.80 L622.91,1013.80 L619.73,1013.80 L616.54,1013.80 L613.36,1013.80 L610.17,1013.80 L606.99,1013.80 L603.80,1013.80 L600.62,1013.80 L597.44,1013.80 L594.25,1013.80 L591.07,1013.80 L587.88,1013.80 L584.70,1013.80 L581.51,1013.80 L578.33,1013.80 L575.14,1013.80 L571.96,1013.80 L568.77,1013.80 L565.59,1013.80 L562.41,1013.80 L559.22,1013.80 L556.04,1013.80 L552.85,1013.80 L549.67,1013.80 L546.48,1013.80 L543.30,1013.80 L540.11,1013.80 L536.93,1013.80 L533.75,1013.80 L530.56,1013.80 L527.38,1013.80 L524.19,1013.80 L521.01,1013.80 L517.82,1013.80 L514.64,1013.80 L511.45,1013.80 L508.27,1013.80 L505.09,1013.80 L501.90,1013.80 L498.72,1013.80 L495.53,1013.80 L492.35,1013.80 L489.16,1013.80 L485.98,1013.80 L482.79,1013.80 L479.61,1013.80 L476.42,1013.80 L473.24,1013.80 L470.06,1013.80 L466.87,1013.80 L463.69,1013.80 L460.50,1013.80 L457.32,1013.80 L454.13,1013.80 L450.95,1013.80 L447.76,1013.80 L444.58,1013.80 L441.39,1013.80 L438.21,1013.80 L435.03,1013.80 L431.84,1013.80 L428.66,1013.80 L425.47,1013.80 L422.29,1013.80 L419.10,1013.80 L415.92,1013.80 L412.73,1013.80 L409.55,1013.80 L406.37,1013.80 L403.18,1013.80 L400.00,1013.80 L396.81,1013.80 L393.63,1013.80 L390.44,1013.80 L387.26,1013.80 L384.07,1013.80 L380.89,1013.80 L377.71,1013.80 L374.52,1013.80 L371.34,1013.80 L368.15,1013.80 L364.97,1013.80 L361.78,1013.80 L358.60,1013.80 L355.41,1013.80 L352.23,1013.80 L349.04,1013.80 L345.86,1013.80 L342.68,1013.80 L339.49,1013.80 L336.31,1013.80 L333.12,1013.80 L329.94,1013.80 L326.75,1013.80 L323.57,1013.80 L320.38,1013.80 L317.20,1013.80 L314.01,1013.80 L310.83,1013.80 L307.65,1013.80 L304.46,1013.80 L301.28,1013.80 L298.09,1013.80 L294.91,1013.80 L291.72,1013.80 L288.54,1013.80 L285.35,1013.80 L282.17,1013.80 L278.99,1013.80 L275.80,1013.80 L272.62,1013.80 L269.43,1013.80 L266.25,1013.80 L263.06,1013.80 L259.88,1013.80 L256.69,1013.80 L253.51,1013.80 L250.32,1013.80 L247.14,1013.80 L243.96,1013.80 L240.77,1013.80 L237.59,1013.80 L234.40,1013.80 L231.22,1013.80 L228.03,1013.80 L224.85,1013.80 L221.66,1013.80 L218.48,1013.80 L215.30,1013.80 L212.11,1013.80 L208.93,1013.80 L205.74,1013.80 L202.56,1013.80 L199.37,1013.80 L196.19,1013.80 L193.00,1013.80 L189.82,1013.80 L186.63,1013.80 L183.45,1013.80 L180.27,1013.80 L177.08,1013.80 L173.90,1013.80 L170.71,1013.80 L167.53,1013.80 L164.34,1013.80 L161.16,1013.80 L157.97,1013.80 L154.79,1013.80 L151.61,1013.80 L148.42,1013.80 L145.24,1013.80 L142.05,1013.80 L138.87,1013.80 L135.68,1013.80 L132.50,1013.80 L129.31,1013.80 L126.13,1013.80 L122.94,1013.80 L119.76,1013.80 L116.58,1013.80 L113.39,1013.80 L110.21,1013.80 L107.02,1013.80 L103.84,1013.80 L100.65,1013.80 L97.47,1013.80 L94.28,1013.80 L91.10,1013.80 Z" fill="#00B400" shape-rendering="crispEdges"/>
<path d="M91.10,653.90 L94.28,653.99 L97.47,654.08 L100.65,654.17 L103.84,654.27 L107.02,654.37 L110.21,654.47 L113.39,654.57 L116.58,654.68 L119.76,654.79 L122.94,654.90 L126.13,655.01 L129.31,655.12 L132.50,655.24 L135.68,655.36 L138.87,655.48 L142.05,655.61 L145.24,655.74 L148.42,655.87 L151.61,656.00 L154.79,656.14 L157.97,656.28 L161.16,656.43 L164.34,656.57 L167.53,656.72 L170.71,656.88 L173.90,657.03 L177.08,657.19 L180.27,657.36 L183.45,657.53 L186.63,657.70 L189.82,657.87 L193.00,658.05 L196.19,658.24 L199.37,658.42 L202.56,658.61 L205.74,658.81 L208.93,659.01 L212.11,659.22 L215.30,659.42 L218.48,659.64 L221.66,659.86 L224.85,660.08 L228.03,660.31 L231.22,660.54 L234.40,660.78 L237.59,661.02 L240.77,661.27 L243.96,661.53 L247.14,661.79 L250.32,662.05 L253.51,662.32 L256.69,662.60 L259.88,662.88 L263.06,663.17 L266.25,663.47 L269.43,663.77 L272.62,664.08 L275.80,664.39 L278.99,664.71 L282.17,665.04 L285.35,665.38 L288.54,665.72 L291.72,666.07 L294.91,666.43 L298.09,666.79 L301.28,667.17 L304.46,667.55 L307.65,667.93 L310.83,668.33 L314.01,668.74 L317.20,669.15 L320.38,669.57 L323.57,670.00 L326.75,670.44 L329.94,670.89 L333.12,671.35 L336.31,671.82 L339.49,672.29 L342.68,672.78 L345.86,673.28 L349.04,673.78 L352.23,674.30 L355.41,674.83 L358.60,675.37 L361.78,675.92 L364.97,676.47 L368.15,677.05 L371.34,677.63 L374.52,678.22 L377.71,678.83 L380.89,679.44 L384.07,680.07 L387.26,680.71 L390.44,681.37 L393.63,682.03 L396.81,682.71 L400.00,683.41 L403.18,684.11 L406.37,684.83 L409.55,685.56 L412.73,686.31 L415.92,687.07 L419.10,687.84 L422.29,688.63 L425.47,689.43 L428.66,690.25 L431.84,691.08 L435.03,691.93 L438.21,692.79 L441.39,693.66 L444.58,694.56 L447.76,695.46 L450.95,696.39 L454.13,697.33 L457.32,698.28 L460.50,699.26 L463.69,700.25 L466.87,701.25 L470.06,702.27 L473.24,703.31 L476.42,704.37 L479.61,705.44 L482.79,706.53 L485.98,707.64 L489.16,708.77 L492.35,709.91 L495.53,711.07 L498.72,712.25 L501.90,713.45 L505.09,714.66 L508.27,715.90 L511.45,717.15 L514.64,718.42 L517.82,719.71 L521.01,721.01 L524.19,722.34 L527.38,723.68 L530.56,725.04 L533.75,726.43 L536.93,727.82 L540.11,729.24 L543.30,730.68 L546.48,732.13 L549.67,733.61 L552.85,735.10 L556.04,736.61 L559.22,738.14 L562.41,739.69 L565.59,741.25 L568.77,742.83 L571.96,744.43 L575.14,746.05 L578.33,747.69 L581.51,749.34 L584.70,751.02 L587.88,752.70 L591.07,754.41 L594.25,756.13 L597.44,757.87 L600.62,759.63 L603.80,761.40 L606.99,763.19 L610.17,764.99 L613.36,766.81 L616.54,768.64 L619.73,770.49 L622.91,772.35 L626.10,774.23 L629.28,776.12 L632.47,778.02 L635.65,779.94 L638.83,781.87 L642.02,783.81 L645.20,785.77 L648.39,787.73 L651.57,789.71 L654.76,791.69 L657.94,793.69 L661.13,795.70 L664.31,797.71 L667.49,799.74 L670.68,801.77 L673.86,803.81 L677.05,805.86 L680.23,807.91 L683.42,809.97 L686.60,812.04 L689.79,814.11 L692.97,816.19 L696.15,818.27 L699.34,820.35 L702.52,822.44 L705.71,824.53 L708.89,826.62 L712.08,828.71 L715.26,830.81 L718.45,832.90 L721.63,835.00 L724.82,837.09 L728.00,839.18 L728.00,1013.80 L724.82,1013.80 L721.63,1013.80 L718.45,1013.80 L715.26,1013.80 L712.08,1013.80 L708.89,1013.80 L705.71,1013.80 L702.52,1013.80 L699.34,1013.80 L696.15,1013.80 L692.97,1013.80 L689.79,1013.80 L686.60,1013.80 L683.42,1013.80 L680.23,1013.80 L677.05,1013.80 L673.86,1013.80 L670.68,1013.80 L667.49,1013.80 L664.31,1013.80 L661.13,1013.80 L657.94,1013.80 L654.76,1013.80 L651.57,1013.80 L648.39,1013.80 L645.20,1013.80 L642.02,1013.80 L638.83,1013.80 L635.65,1013.80 L632.47,1013.80 L629.28,1013.80 L626.10,1013.80 L622.91,1013.80 L619.73,1013.80 L616.54,1013.80 L613.36,1013.80 L610.17,1013.80 L606.99,1013.80 L603.80,1013.80 L600.62,1013.80 L597.44,1013.80 L594.25,1013.80 L591.07,1013.80 L587.88,1013.80 L584.70,1013.80 L581.51,1013.80 L578.33,1013.80 L575.14,1013.80 L571.96,1013.80 L568.77,1013.80 L565.59,1013.80 L562.41,1013.80 L559.22,1013.80 L556.04,1013.80 L552.85,1013.80 L549.67,1013.80 L546.48,1013.80 L543.30,1013.80 L540.11,1013.80 L536.93,1013.80 L533.75,1013.80 L530.56,1013.80 L527.38,1013.80 L524.19,1013.80 L521.01,1013.80 L517.82,1013.80 L514.64,1013.80 L511.45,1013.80 L508.27,1013.80 L505.09,1013.80 L501.90,1013.80 L498.72,1013.80 L495.53,1013.80 L492.35,1013.80 L489.16,1013.80 L485.98,1013.80 L482.79,1013.80 L479.61,1013.80 L476.42,1013.80 L473.24,1013.80 L470.06,1013.80 L466.87,1013.80 L463.69,1013.80 L460.50,1013.80 L457.32,1013.80 L454.13,1013.80 L450.95,1013.80 L447.76,1013.80 L444.58,1013.80 L441.39,1013.80 L438.21,1013.80 L435.03,1013.80 L431.84,1013.80 L428.66,1013.80 L425.47,1013.80 L422.29,1013.80 L419.10,1013.80 L415.92,1013.80 L412.73,1013.80 L409.55,1013.80 L406.37,1013.80 L403.18,1013.80 L400.00,1013.80 L396.81,1013.80 L393.63,1013.80 L390.44,1013.80 L387.26,1013.80 L384.07,1013.80 L380.89,1013.80 L377.71,1013.80 L374.52,1013.80 L371.34,1013.80 L368.15,1013.80 L364.97,1013.80 L361.78,1013.80 L358.60,1013.80 L355.41,1013.80 L352.23,1013.80 L349.04,1013.80 L345.86,1013.80 L342.68,1013.80 L339.49,1013.80 L336.31,1013.80 L333.12,1013.80 L329.94,1013.80 L326.75,1013.80 L323.57,1013.80 L320.38,1013.80 L317.20,1013.80 L314.01,1013.80 L310.83,1013.80 L307.65,1013.80 L304.46,1013.80 L301.28,1013.80 L298.09,1013.80 L294.91,1013.80 L291.72,1013.80 L288.54,1013.80 L285.35,1013.80 L282.17,1013.80 L278.99,1013.80 L275.80,1013.80 L272.62,1013.80 L269.43,1013.80 L266.25,1013.80 L263.06,1013.80 L259.88,1013.80 L256.69,1013.80 L253.51,1013.80 L250.32,1013.80 L247.14,1013.80 L243.96,1013.80 L240.77,1013.80 L237.59,1013.80 L234.40,1013.80 L231.22,1013.80 L228.03,1013.80 L224.85,1013.80 L221.66,1013.80 L218.48,1013.80 L215.30,1013.80 L212.11,1013.80 L208.93,1013.80 L205.74,1013.80 L202.56,1013.80 L199.37,1013.80 L196.19,1013.80 L193.00,1013.80 L189.82,1013.80 L186.63,1013.80 L183.45,1013.80 L180.27,1013.80 L177.08,1013.80 L173.90,1013.80 L170.71,1013.80 L167.53,1013.80 L164.34,1013.80 L161.16,1013.80 L157.97,1013.80 L154.79,1013.80 L151.61,1013.80 L148.42,1013.80 L145.24,1013.80 L142.05,1013.80 L138.87,1013.80 L135.68,1013.80 L132.50,1013.80 L129.31,1013.80 L126.13,1013.80 L122.94,1013.80 L119.76,1013.80 L116.58,1013.80 L113.39,1013.80 L110.21,1013.80 L107.02,1013.80 L103.84,1013.80 L100.65,1013.80 L97.47,1013.80 L94.28,1013.80 L91.10,1013.80 Z" fill="#5500FF" shape-rendering="crispEdges"/>
<path d="M91.10,965.21 L94.28,965.23 L97.47,965.24 L100.65,965.25 L103.84,965.26 L107.02,965.28 L110.21,965.29 L113.39,965.30 L116.58,965.32 L119.76,965.33 L122.94,965.35 L126.13,965.36 L129.31,965.38 L132.50,965.39 L135.68,965.41 L138.87,965.43 L142.05,965.44 L145.24,965.46 L148.42,965.48 L151.61,965.50 L154.79,965.52 L157.97,965.54 L161.16,965.55 L164.34,965.57 L167.53,965.59 L170.71,965.62 L173.90,965.64 L177.08,965.66 L180.27,965.68 L183.45,965.70 L186.63,965.73 L189.82,965.75 L193.00,965.77 L196.19,965.80 L199.37,965.82 L202.56,965.85 L205.74,965.88 L208.93,965.90 L212.11,965.93 L215.30,965.96 L218.48,965.99 L221.66,966.02 L224.85,966.05 L228.03,966.08 L231.22,966.11 L234.40,966.14 L237.59,966.18 L240.77,966.21 L243.96,966.24 L247.14,966.28 L250.32,966.31 L253.51,966.35 L256.69,966.39 L259.88,966.43 L263.06,966.47 L266.25,966.51 L269.43,966.55 L272.62,966.59 L275.80,966.63 L278.99,966.67 L282.17,966.72 L285.35,966.76 L288.54,966.81 L291.72,966.86 L294.91,966.90 L298.09,966.95 L301.28,967.00 L304.46,967.06 L307.65,967.11 L310.83,967.16 L314.01,967.22 L317.20,967.27 L320.38,967.33 L323.57,967.39 L326.75,967.45 L329.94,967.51 L333.12,967.57 L336.31,967.63 L339.49,967.70 L342.68,967.76 L345.86,967.83 L349.04,967.90 L352.23,967.97 L355.41,968.04 L358.60,968.11 L361.78,968.19 L364.97,968.26 L368.15,968.34 L371.34,968.42 L374.52,968.50 L377.71,968.58 L380.89,968.66 L384.07,968.75 L387.26,968.83 L390.44,968.92 L393.63,969.01 L396.81,969.10 L400.00,969.20 L403.18,969.29 L406.37,969.39 L409.55,969.49 L412.73,969.59 L415.92,969.69 L419.10,969.80 L422.29,969.90 L425.47,970.01 L428.66,970.12 L431.84,970.23 L435.03,970.35 L438.21,970.46 L441.39,970.58 L444.58,970.70 L447.76,970.82 L450.95,970.95 L454.13,971.08 L457.32,971.21 L460.50,971.34 L463.69,971.47 L466.87,971.61 L470.06,971.74 L473.24,971.88 L476.42,972.03 L479.61,972.17 L482.79,972.32 L485.98,972.47 L489.16,972.62 L492.35,972.77 L495.53,972.93 L498.72,973.09 L501.90,973.25 L505.09,973.42 L508.27,973.58 L511.45,973.75 L514.64,973.92 L517.82,974.10 L521.01,974.27 L524.19,974.45 L527.38,974.63 L530.56,974.82 L533.75,975.00 L536.93,975.19 L540.11,975.38 L543.30,975.58 L546.48,975.78 L549.67,975.97 L552.85,976.18 L556.04,976.38 L559.22,976.59 L562.41,976.79 L565.59,977.01 L568.77,977.22 L571.96,977.44 L575.14,977.65 L578.33,977.88 L581.51,978.10 L584.70,978.32 L587.88,978.55 L591.07,978.78 L594.25,979.01 L597.44,979.25 L600.62,979.49 L603.80,979.73 L606.99,979.97 L610.17,980.21 L613.36,980.46 L616.54,980.70 L619.73,980.95 L622.91,981.20 L626.10,981.46 L629.28,981.71 L632.47,981.97 L635.65,982.23 L638.83,982.49 L642.02,982.75 L645.20,983.02 L648.39,983.28 L651.57,983.55 L654.76,983.82 L657.94,984.09 L661.13,984.36 L664.31,984.63 L667.49,984.90 L670.68,985.18 L673.86,985.45 L677.05,985.73 L680.23,986.01 L683.42,986.28 L686.60,986.56 L689.79,986.84 L692.97,987.12 L696.15,987.40 L699.34,987.68 L702.52,987.97 L705.71,988.25 L708.89,988.53 L712.08,988.81 L715.26,989.10 L718.45,989.38 L721.63,989.66 L724.82,989.94 L728.00,990.23 L728.00,1013.80 L724.82,1013.80 L721.63,1013.80 L718.45,1013.80 L715.26,1013.80 L712.08,1013.80 L708.89,1013.80 L705.71,1013.80 L702.52,1013.80 L699.34,1013.80 L696.15,1013.80 L692.97,1013.80 L689.79,1013.80 L686.60,1013.80 L683.42,1013.80 L680.23,1013.80 L677.05,1013.80 L673.86,1013.80 L670.68,1013.80 L667.49,1013.80 L664.31,1013.80 L661.13,1013.80 L657.94,1013.80 L654.76,1013.80 L651.57,1013.80 L648.39,1013.80 L645.20,1013.80 L642.02,1013.80 L638.83,1013.80 L635.65,1013.80 L632.47,1013.80 L629.28,1013.80 L626.10,1013.80 L622.91,1013.80 L619.73,1013.80 L616.54,1013.80 L613.36,1013.80 L610.17,1013.80 L606.99,1013.80 L603.80,1013.80 L600.62,1013.80 L597.44,1013.80 L594.25,1013.80 L591.07,1013.80 L587.88,1013.80 L584.70,1013.80 L581.51,1013.80 L578.33,1013.80 L575.14,1013.80 L571.96,1013.80 L568.77,1013.80 L565.59,1013.80 L562.41,1013.80 L559.22,1013.80 L556.04,1013.80 L552.85,1013.80 L549.67,1013.80 L546.48,1013.80 L543.30,1013.80 L540.11,1013.80 L536.93,1013.80 L533.75,1013.80 L530.56,1013.80 L527.38,1013.80 L524.19,1013.80 L521.01,1013.80 L517.82,1013.80 L514.64,1013.80 L511.45,1013.80 L508.27,1013.80 L505.09,1013.80 L501.90,1013.80 L498.72,1013.80 L495.53,1013.80 L492.35,1013.80 L489.16,1013.80 L485.98,1013.80 L482.79,1013.80 L479.61,1013.80 L476.42,1013.80 L473.24,1013.80 L470.06,1013.80 L466.87,1013.80 L463.69,1013.80 L460.50,1013.80 L457.32,1013.80 L454.13,1013.80 L450.95,1013.80 L447.76,1013.80 L444.58,1013.80 L441.39,1013.80 L438.21,1013.80 L435.03,1013.80 L431.84,1013.80 L428.66,1013.80 L425.47,1013.80 L422.29,1013.80 L419.10,1013.80 L415.92,1013.80 L412.73,1013.80 L409.55,1013.80 L406.37,1013.80 L403.18,1013.80 L400.00,1013.80 L396.81,1013.80 L393.63,1013.80 L390.44,1013.80 L387.26,1013.80 L384.07,1013.80 L380.89,1013.80 L377.71,1013.80 L374.52,1013.80 L371.34,1013.80 L368.15,1013.80 L364.97,1013.80 L361.78,1013.80 L358.60,1013.80 L355.41,1013.80 L352.23,1013.80 L349.04,1013.80 L345.86,1013.80 L342.68,1013.80 L339.49,1013.80 L336.31,1013.80 L333.12,1013.80 L329.94,1013.80 L326.75,1013.80 L323.57,1013.80 L320.38,1013.80 L317.20,1013.80 L314.01,1013.80 L310.83,1013.80 L307.65,1013.80 L304.46,1013.80 L301.28,1013.80 L298.09,1013.80 L294.91,1013.80 L291.72,1013.80 L288.54,1013.80 L285.35,1013.80 L282.17,1013.80 L278.99,1013.80 L275.80,1013.80 L272.62,1013.80 L269.43,1013.80 L266.25,1013.80 L263.06,1013.80 L259.88,1013.80 L256.69,1013.80 L253.51,1013.80 L250.32,1013.80 L247.14,1013.80 L243.96,1013.80 L240.77,1013.80 L237.59,1013.80 L234.40,1013.80 L231.22,1013.80 L228.03,1013.80 L224.85,1013.80 L221.66,1013.80 L218.48,1013.80 L215.30,1013.80 L212.11,1013.80 L208.93,1013.80 L205.74,1013.80 L202.56,1013.80 L199.37,1013.80 L196.19,1013.80 L193.00,1013.80 L189.82,1013.80 L186.63,1013.80 L183.45,1013.80 L180.27,1013.80 L177.08,1013.80 L173.90,1013.80 L170.71,1013.80 L167.53,1013.80 L164.34,1013.80 L161.16,1013.80 L157.97,1013.80 L154.79,1013.80 L151.61,1013.80 L148.42,1013.80 L145.24,1013.80 L142.05,1013.80 L138.87,1013.80 L135.68,1013.80 L132.50,1013.80 L129.31,1013.80 L126.13,1013.80 L122.94,1013.80 L119.76,1013.80 L116.58,1013.80 L113.39,1013.80 L110.21,1013.80 L107.02,1013.80 L103.84,1013.80 L100.65,1013.80 L97.47,1013.80 L94.28,1013.80 L91.10,1013.80 Z" fill="#FF0000" shape-rendering="crispEdges"/>
<g stroke="#262626" stroke-width="1.90" fill="none" stroke-linecap="butt"><line x1="139.03" y1="1013.80" x2="139.03" y2="1002.00"/>
<line x1="139.03" y1="650.00" x2="139.03" y2="661.80"/>
<line x1="167.07" y1="1013.80" x2="167.07" y2="1002.00"/>
<line x1="167.07" y1="650.00" x2="167.07" y2="661.80"/>
<line x1="186.96" y1="1013.80" x2="186.96" y2="1002.00"/>
<line x1="186.96" y1="650.00" x2="186.96" y2="661.80"/>
<line x1="202.39" y1="1013.80" x2="202.39" y2="1002.00"/>
<line x1="202.39" y1="650.00" x2="202.39" y2="661.80"/>
<line x1="215.00" y1="1013.80" x2="215.00" y2="1002.00"/>
<line x1="215.00" y1="650.00" x2="215.00" y2="661.80"/>
<line x1="225.66" y1="1013.80" x2="225.66" y2="1002.00"/>
<line x1="225.66" y1="650.00" x2="225.66" y2="661.80"/>
<line x1="234.89" y1="1013.80" x2="234.89" y2="1002.00"/>
<line x1="234.89" y1="650.00" x2="234.89" y2="661.80"/>
<line x1="243.04" y1="1013.80" x2="243.04" y2="1002.00"/>
<line x1="243.04" y1="650.00" x2="243.04" y2="661.80"/>
<line x1="250.32" y1="1013.80" x2="250.32" y2="990.80"/>
<line x1="250.32" y1="650.00" x2="250.32" y2="673.00"/>
<line x1="298.26" y1="1013.80" x2="298.26" y2="1002.00"/>
<line x1="298.26" y1="650.00" x2="298.26" y2="661.80"/>
<line x1="326.29" y1="1013.80" x2="326.29" y2="1002.00"/>
<line x1="326.29" y1="650.00" x2="326.29" y2="661.80"/>
<line x1="346.19" y1="1013.80" x2="346.19" y2="1002.00"/>
<line x1="346.19" y1="650.00" x2="346.19" y2="661.80"/>
<line x1="361.62" y1="1013.80" x2="361.62" y2="1002.00"/>
<line x1="361.62" y1="650.00" x2="361.62" y2="661.80"/>
<line x1="374.23" y1="1013.80" x2="374.23" y2="1002.00"/>
<line x1="374.23" y1="650.00" x2="374.23" y2="661.80"/>
<line x1="384.89" y1="1013.80" x2="384.89" y2="1002.00"/>
<line x1="384.89" y1="650.00" x2="384.89" y2="661.80"/>
<line x1="394.12" y1="1013.80" x2="394.12" y2="1002.00"/>
<line x1="394.12" y1="650.00" x2="394.12" y2="661.80"/>
<line x1="402.26" y1="1013.80" x2="402.26" y2="1002.00"/>
<line x1="402.26" y1="650.00" x2="402.26" y2="661.80"/>
<line x1="409.55" y1="1013.80" x2="409.55" y2="990.80"/>
<line x1="409.55" y1="650.00" x2="409.55" y2="673.00"/>
<line x1="457.48" y1="1013.80" x2="457.48" y2="1002.00"/>
<line x1="457.48" y1="650.00" x2="457.48" y2="661.80"/>
<line x1="485.52" y1="1013.80" x2="485.52" y2="1002.00"/>
<line x1="485.52" y1="650.00" x2="485.52" y2="661.80"/>
<line x1="505.41" y1="1013.80" x2="505.41" y2="1002.00"/>
<line x1="505.41" y1="650.00" x2="505.41" y2="661.80"/>
<line x1="520.84" y1="1013.80" x2="520.84" y2="1002.00"/>
<line x1="520.84" y1="650.00" x2="520.84" y2="661.80"/>
<line x1="533.45" y1="1013.80" x2="533.45" y2="1002.00"/>
<line x1="533.45" y1="650.00" x2="533.45" y2="661.80"/>
<line x1="544.11" y1="1013.80" x2="544.11" y2="1002.00"/>
<line x1="544.11" y1="650.00" x2="544.11" y2="661.80"/>
<line x1="553.34" y1="1013.80" x2="553.34" y2="1002.00"/>
<line x1="553.34" y1="650.00" x2="553.34" y2="661.80"/>
<line x1="561.49" y1="1013.80" x2="561.49" y2="1002.00"/>
<line x1="561.49" y1="650.00" x2="561.49" y2="661.80"/>
<line x1="568.77" y1="1013.80" x2="568.77" y2="990.80"/>
<line x1="568.77" y1="650.00" x2="568.77" y2="673.00"/>
<line x1="616.71" y1="1013.80" x2="616.71" y2="1002.00"/>
<line x1="616.71" y1="650.00" x2="616.71" y2="661.80"/>
<line x1="644.74" y1="1013.80" x2="644.74" y2="1002.00"/>
<line x1="644.74" y1="650.00" x2="644.74" y2="661.80"/>
<line x1="664.64" y1="1013.80" x2="664.64" y2="1002.00"/>
<line x1="664.64" y1="650.00" x2="664.64" y2="661.80"/>
<line x1="680.07" y1="1013.80" x2="680.07" y2="1002.00"/>
<line x1="680.07" y1="650.00" x2="680.07" y2="661.80"/>
<line x1="692.68" y1="1013.80" x2="692.68" y2="1002.00"/>
<line x1="692.68" y1="650.00" x2="692.68" y2="661.80"/>
<line x1="703.34" y1="1013.80" x2="703.34" y2="1002.00"/>
<line x1="703.34" y1="650.00" x2="703.34" y2="661.80"/>
<line x1="712.57" y1="1013.80" x2="712.57" y2="1002.00"/>
<line x1="712.57" y1="650.00" x2="712.57" y2="661.80"/>
<line x1="720.71" y1="1013.80" x2="720.71" y2="1002.00"/>
<line x1="720.71" y1="650.00" x2="720.71" y2="661.80"/>
<line x1="91.10" y1="941.04" x2="114.60" y2="941.04"/>
<line x1="728.00" y1="941.04" x2="704.50" y2="941.04"/>
<line x1="91.10" y1="868.28" x2="114.60" y2="868.28"/>
<line x1="728.00" y1="868.28" x2="704.50" y2="868.28"/>
<line x1="91.10" y1="795.52" x2="114.60" y2="795.52"/>
<line x1="728.00" y1="795.52" x2="704.50" y2="795.52"/>
<line x1="91.10" y1="722.76" x2="114.60" y2="722.76"/>
<line x1="728.00" y1="722.76" x2="704.50" y2="722.76"/>
<rect x="91.10" y="650.00" width="636.90" height="363.80" fill="none"/></g>
<rect x="130.70" y="692.00" width="203.90" height="181.20" fill="#fff"/>
<rect x="141.30" y="709.00" width="101.50" height="29.00" fill="#FF0000"/>
<rect x="141.30" y="755.00" width="101.50" height="29.00" fill="#5500FF"/>
<rect x="141.30" y="794.20" width="101.50" height="29.00" fill="#AA00FF"/>
<rect x="141.30" y="833.70" width="101.50" height="29.00" fill="#00B400"/>
<g fill="#000" style="will-change:transform">
<text transform="translate(249.90,727.70) scale(1,0.990)" font-size="30">k</text>
<text transform="translate(266.10,742.60) scale(1,1.035)" font-size="22.5">T</text>
<text transform="translate(280.64,727.70) scale(1,1.035)" font-size="30">T</text>
<text transform="translate(249.90,780.12) scale(1,1.035)" font-size="30">RISC</text>
<text transform="translate(249.90,819.32) scale(1,1.035)" font-size="30">TTA</text>
<text transform="translate(249.90,858.82) scale(1,1.035)" font-size="30">TPA</text>
</g>
<g fill="#262626" style="will-change:transform">
<text transform="translate(63.42,453.72) scale(1,1.035)" font-size="30">0</text>
<text transform="translate(38.40,380.96) scale(1,1.035)" font-size="30">0</text>
<text transform="translate(55.08,380.96) scale(1,1.035)" font-size="30">.</text>
<text transform="translate(63.42,380.96) scale(1,1.035)" font-size="30">2</text>
<text transform="translate(38.40,308.20) scale(1,1.035)" font-size="30">0</text>
<text transform="translate(55.08,308.20) scale(1,1.035)" font-size="30">.</text>
<text transform="translate(63.42,308.20) scale(1,1.035)" font-size="30">4</text>
<text transform="translate(38.40,235.44) scale(1,1.035)" font-size="30">0</text>
<text transform="translate(55.08,235.44) scale(1,1.035)" font-size="30">.</text>
<text transform="translate(63.42,235.44) scale(1,1.035)" font-size="30">6</text>
<text transform="translate(38.40,162.68) scale(1,1.035)" font-size="30">0</text>
<text transform="translate(55.08,162.68) scale(1,1.035)" font-size="30">.</text>
<text transform="translate(63.42,162.68) scale(1,1.035)" font-size="30">8</text>
<use href="#one" transform="translate(63.42,89.92) scale(0.01465,-0.01465)"/>
<use href="#one" transform="translate(60.60,490.00) scale(0.01465,-0.01465)"/>
<text transform="translate(77.28,490.00) scale(1,1.035)" font-size="30">0</text>
<text transform="translate(96.07,475.00) scale(1,1.035)" font-size="23.5">-</text>
<use href="#one" transform="translate(103.89,475.00) scale(0.01147,-0.01147)"/>
<use href="#one" transform="translate(225.02,490.00) scale(0.01465,-0.01465)"/>
<text transform="translate(241.71,490.00) scale(1,1.035)" font-size="30">0</text>
<text transform="translate(260.49,475.00) scale(1,1.035)" font-size="23.5">0</text>
<use href="#one" transform="translate(384.25,490.00) scale(0.01465,-0.01465)"/>
<text transform="translate(400.93,490.00) scale(1,1.035)" font-size="30">0</text>
<use href="#one" transform="translate(419.72,475.00) scale(0.01147,-0.01147)"/>
<use href="#one" transform="translate(543.48,490.00) scale(0.01465,-0.01465)"/>
<text transform="translate(560.16,490.00) scale(1,1.035)" font-size="30">0</text>
<text transform="translate(578.94,475.00) scale(1,1.035)" font-size="23.5">2</text>
<use href="#one" transform="translate(702.70,490.00) scale(0.01465,-0.01465)"/>
<text transform="translate(719.38,490.00) scale(1,1.035)" font-size="30">0</text>
<text transform="translate(738.17,475.00) scale(1,1.035)" font-size="23.5">3</text>
<text transform="translate(63.42,1025.02) scale(1,1.035)" font-size="30">0</text>
<text transform="translate(38.40,952.26) scale(1,1.035)" font-size="30">0</text>
<text transform="translate(55.08,952.26) scale(1,1.035)" font-size="30">.</text>
<text transform="translate(63.42,952.26) scale(1,1.035)" font-size="30">2</text>
<text transform="translate(38.40,879.50) scale(1,1.035)" font-size="30">0</text>
<text transform="translate(55.08,879.50) scale(1,1.035)" font-size="30">.</text>
<text transform="translate(63.42,879.50) scale(1,1.035)" font-size="30">4</text>
<text transform="translate(38.40,806.74) scale(1,1.035)" font-size="30">0</text>
<text transform="translate(55.08,806.74) scale(1,1.035)" font-size="30">.</text>
<text transform="translate(63.42,806.74) scale(1,1.035)" font-size="30">6</text>
<text transform="translate(38.40,733.98) scale(1,1.035)" font-size="30">0</text>
<text transform="translate(55.08,733.98) scale(1,1.035)" font-size="30">.</text>
<text transform="translate(63.42,733.98) scale(1,1.035)" font-size="30">8</text>
<use href="#one" transform="translate(63.42,661.22) scale(0.01465,-0.01465)"/>
<use href="#one" transform="translate(60.60,1061.30) scale(0.01465,-0.01465)"/>
<text transform="translate(77.28,1061.30) scale(1,1.035)" font-size="30">0</text>
<text transform="translate(96.07,1046.30) scale(1,1.035)" font-size="23.5">-</text>
<use href="#one" transform="translate(103.89,1046.30) scale(0.01147,-0.01147)"/>
<use href="#one" transform="translate(225.02,1061.30) scale(0.01465,-0.01465)"/>
<text transform="translate(241.71,1061.30) scale(1,1.035)" font-size="30">0</text>
<text transform="translate(260.49,1046.30) scale(1,1.035)" font-size="23.5">0</text>
<use href="#one" transform="translate(384.25,1061.30) scale(0.01465,-0.01465)"/>
<text transform="translate(400.93,1061.30) scale(1,1.035)" font-size="30">0</text>
<use href="#one" transform="translate(419.72,1046.30) scale(0.01147,-0.01147)"/>
<use href="#one" transform="translate(543.48,1061.30) scale(0.01465,-0.01465)"/>
<text transform="translate(560.16,1061.30) scale(1,1.035)" font-size="30">0</text>
<text transform="translate(578.94,1046.30) scale(1,1.035)" font-size="23.5">2</text>
<use href="#one" transform="translate(702.70,1061.30) scale(0.01465,-0.01465)"/>
<text transform="translate(719.38,1061.30) scale(1,1.035)" font-size="30">0</text>
<text transform="translate(738.17,1046.30) scale(1,1.035)" font-size="23.5">3</text>
<text transform="translate(214.60,537.70) scale(1,1.000)" font-size="33.3">Current density (mA cm</text>
<text transform="translate(565.55,522.70) scale(1.2,1.03)" font-size="25">-</text>
<text transform="translate(574.25,522.70) scale(1,1.030)" font-size="25">2</text>
<text transform="translate(593.00,537.70) scale(1,1.000)" font-size="33.3">)</text>
<text transform="translate(23.6,261.30) rotate(-90)" text-anchor="middle" font-size="33.3">Singlet dynamics</text>
<text transform="translate(214.60,1109.00) scale(1,1.000)" font-size="33.3">Current density (mA cm</text>
<text transform="translate(565.55,1094.00) scale(1.2,1.03)" font-size="25">-</text>
<text transform="translate(574.25,1094.00) scale(1,1.030)" font-size="25">2</text>
<text transform="translate(593.00,1109.00) scale(1,1.000)" font-size="33.3">)</text>
<text transform="translate(23.6,834.20) rotate(-90)" text-anchor="middle" font-size="33.3">Triplet dynamics</text>
</g>
<g fill="#000" font-weight="bold" style="will-change:transform">
<text transform="translate(7.3,17.7) scale(0.9,1.03)" font-size="33">a</text>
<text transform="translate(5.10,589.70) scale(1,1.035)" font-size="33">b</text>
</g>
</svg>
</body></html>
